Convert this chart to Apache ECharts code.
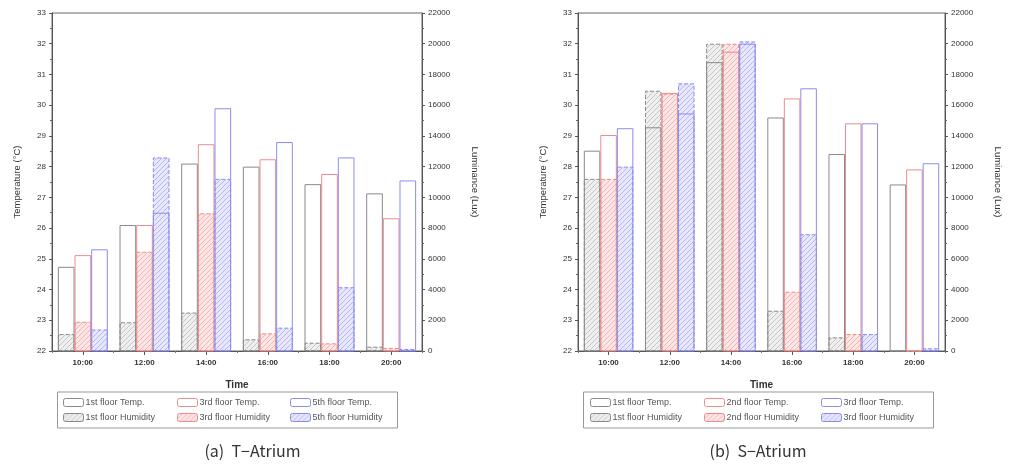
<!DOCTYPE html>
<html>
<head>
<meta charset="utf-8">
<script src="https://cdn.jsdelivr.net/npm/echarts@6/dist/echarts.min.js"></script>
<style>
  html, body { margin: 0; padding: 0; background: #fff; }
  #wrap { position: relative; width: 1011px; height: 466px; }
  #chartA { position: absolute; left: 0; top: 0; width: 505px; height: 466px; }
  #chartB { position: absolute; left: 505px; top: 0; width: 506px; height: 466px; }
</style>
</head>
<body>
<div id="wrap">
  <div id="chartA"></div>
  <div id="chartB"></div>
</div>
<script>
// 시간
const times = ['10:00', '12:00', '14:00', '16:00', '18:00', '20:00']

// (a) T-Atrium
const tTemp1 = [24.74, 26.1, 28.1, 28.0, 27.43, 27.13]
const tTemp3 = [25.12, 26.1, 28.73, 28.24, 27.76, 26.32]
const tTemp5 = [25.31, 26.5, 29.9, 28.8, 28.3, 27.55]
const tLux1 = [1100, 1870, 2500, 760, 540, 280]
const tLux3 = [1900, 6460, 8960, 1150, 500, 200]
const tLux5 = [1400, 12600, 11200, 1520, 4150, 130]

// (b) S-Atrium
const sTemp1 = [28.52, 29.28, 31.4, 29.6, 28.41, 27.42]
const sTemp2 = [29.03, 30.4, 31.74, 30.22, 29.41, 27.91]
const sTemp3 = [29.25, 29.73, 32.0, 30.55, 29.41, 28.11]
const sLux1 = [11200, 16940, 20000, 2620, 890, 0]
const sLux2 = [11200, 16750, 20000, 3860, 1100, 0]
const sLux3 = [12000, 17420, 20150, 7600, 1100, 175]

const tempTicks = { min: 22, max: 33, interval: 1 }
const luxTicks = { min: 0, max: 22000, interval: 2000 }

const FONT = 'Liberation Sans'
const GRAY = '#8a8a8a', RED = '#ec8c8c', BLUE = '#8c8cec'

// 빗금 패턴
function hatch(bg, line) {
  const c = document.createElement('canvas')
  c.width = 5; c.height = 5
  const g = c.getContext('2d')
  g.fillStyle = bg
  g.fillRect(0, 0, 5, 5)
  g.strokeStyle = line
  g.lineWidth = 1
  g.beginPath()
  g.moveTo(0, 5); g.lineTo(5, 0)
  g.moveTo(-1, 1); g.lineTo(1, -1)
  g.moveTo(4, 6); g.lineTo(6, 4)
  g.stroke()
  return c
}

const hatchGray = hatch('#efefef', '#c6c6c6')
const hatchRed = hatch('#fde6e6', '#f5b4b4')
const hatchBlue = hatch('#e7e7fd', '#b6b6f5')

function tempSeries(name, data, color) {
  return {
    name, type: 'bar', data, xAxisIndex: 0, yAxisIndex: 0,
    barGap: '0%', barCategoryGap: '19%', z: 3,
    itemStyle: { color: 'rgba(255,255,255,0)', borderColor: color, borderWidth: 1 }
  }
}

function luxSeries(name, data, color, pattern) {
  return {
    name, type: 'bar', data, xAxisIndex: 1, yAxisIndex: 1,
    barGap: '0%', barCategoryGap: '19%', z: 2,
    itemStyle: {
      color: { image: pattern, repeat: 'repeat' },
      borderColor: color, borderWidth: 1, borderType: 'dashed'
    }
  }
}

function buildOption(cfg) {
  const axisLine = { lineStyle: { color: '#555', width: 1 } }
  const legendBase = {
    orient: 'vertical', top: 398, padding: 0, itemWidth: 20, itemHeight: 8, itemGap: 6,
    itemStyle: { borderWidth: 1 }, selectedMode: false,
    textStyle: { fontFamily: FONT, fontSize: 9, color: '#555', padding: [0, 0, 0, -3] }
  }
  return {
    animation: false,
    backgroundColor: '#fff',
    grid: {
      left: cfg.left, right: cfg.right, top: 13, bottom: 115,
      show: true, borderColor: '#666', borderWidth: 1
    },
    xAxis: [
      {
        type: 'category', data: times, position: 'bottom',
        name: 'Time', nameLocation: 'middle', nameGap: 29,
        nameTextStyle: { fontFamily: FONT, fontSize: 10, fontWeight: 'bold', color: '#333' },
        axisLine,
        axisTick: { show: true, alignWithLabel: true, length: 4, lineStyle: { color: '#555' } },
        axisLabel: { fontFamily: FONT, fontSize: 8, fontWeight: 'bold', color: '#333', margin: 8 },
        splitLine: { show: false }
      },
      {
        type: 'category', data: times, position: 'bottom',
        axisLine: { show: false }, axisLabel: { show: false },
        axisTick: { show: true, length: 2, lineStyle: { color: '#777' } },
        splitLine: { show: false }
      }
    ],
    yAxis: [
      {
        type: 'value', position: 'left', ...tempTicks,
        name: 'Temperature (\u00b0C)', nameLocation: 'middle', nameGap: 30, nameRotate: 90,
        nameTextStyle: { fontFamily: FONT, fontSize: 9.5, color: '#333' },
        axisLine: { show: true, ...axisLine },
        axisTick: { show: true, length: 3, lineStyle: { color: '#555' } },
        minorTick: { show: true, splitNumber: 2, length: 2, lineStyle: { color: '#666' } },
        axisLabel: { fontFamily: FONT, fontSize: 8, color: '#333', margin: 6 },
        splitLine: { show: false }
      },
      {
        type: 'value', position: 'right', ...luxTicks,
        name: 'Luminance (Lux)', nameLocation: 'middle', nameGap: 48, nameRotate: -90,
        nameTextStyle: { fontFamily: FONT, fontSize: 9.5, color: '#333' },
        axisLine: { show: true, ...axisLine },
        axisTick: { show: true, length: 3, lineStyle: { color: '#555' } },
        minorTick: { show: true, splitNumber: 2, length: 2, lineStyle: { color: '#666' } },
        axisLabel: { fontFamily: FONT, fontSize: 8, color: '#333', margin: 6, formatter: v => String(v) },
        splitLine: { show: false }
      }
    ],
    legend: cfg.legendCols.map((col, i) => ({
      ...legendBase, left: col, data: [cfg.tempNames[i], cfg.luxNames[i]]
    })),
    graphic: [
      {
        type: 'rect', silent: true,
        shape: { x: cfg.box[0], y: 392, width: cfg.box[1], height: 36 },
        style: { fill: 'none', stroke: '#999', lineWidth: 1 }
      },
      {
        type: 'text', left: 'center', top: 443,
        style: { text: cfg.caption, font: '16px "Noto Sans CJK KR"', fill: '#333' }
      }
    ],
    series: [
      luxSeries(cfg.luxNames[0], cfg.lux[0], GRAY, hatchGray),
      luxSeries(cfg.luxNames[1], cfg.lux[1], RED, hatchRed),
      luxSeries(cfg.luxNames[2], cfg.lux[2], BLUE, hatchBlue),
      tempSeries(cfg.tempNames[0], cfg.temp[0], GRAY),
      tempSeries(cfg.tempNames[1], cfg.temp[1], RED),
      tempSeries(cfg.tempNames[2], cfg.temp[2], BLUE)
    ]
  }
}

const chartA = echarts.init(document.getElementById('chartA'))
chartA.setOption(buildOption({
  left: 52, right: 83,
  caption: '(a)  T\u2212Atrium',
  box: [57.5, 340],
  legendCols: [63, 177, 290],
  tempNames: ['1st floor Temp.', '3rd floor Temp.', '5th floor Temp.'],
  luxNames: ['1st floor Humidity', '3rd floor Humidity', '5th floor Humidity'],
  temp: [tTemp1, tTemp3, tTemp5],
  lux: [tLux1, tLux3, tLux5]
}))

const chartB = echarts.init(document.getElementById('chartB'))
chartB.setOption(buildOption({
  left: 73, right: 63,
  caption: '(b)  S\u2212Atrium',
  box: [78.5, 350],
  legendCols: [85, 199, 316],
  tempNames: ['1st floor Temp.', '2nd floor Temp.', '3rd floor Temp.'],
  luxNames: ['1st floor Humidity', '2nd floor Humidity', '3rd floor Humidity'],
  temp: [sTemp1, sTemp2, sTemp3],
  lux: [sLux1, sLux2, sLux3]
}))
</script>
</body>
</html>
